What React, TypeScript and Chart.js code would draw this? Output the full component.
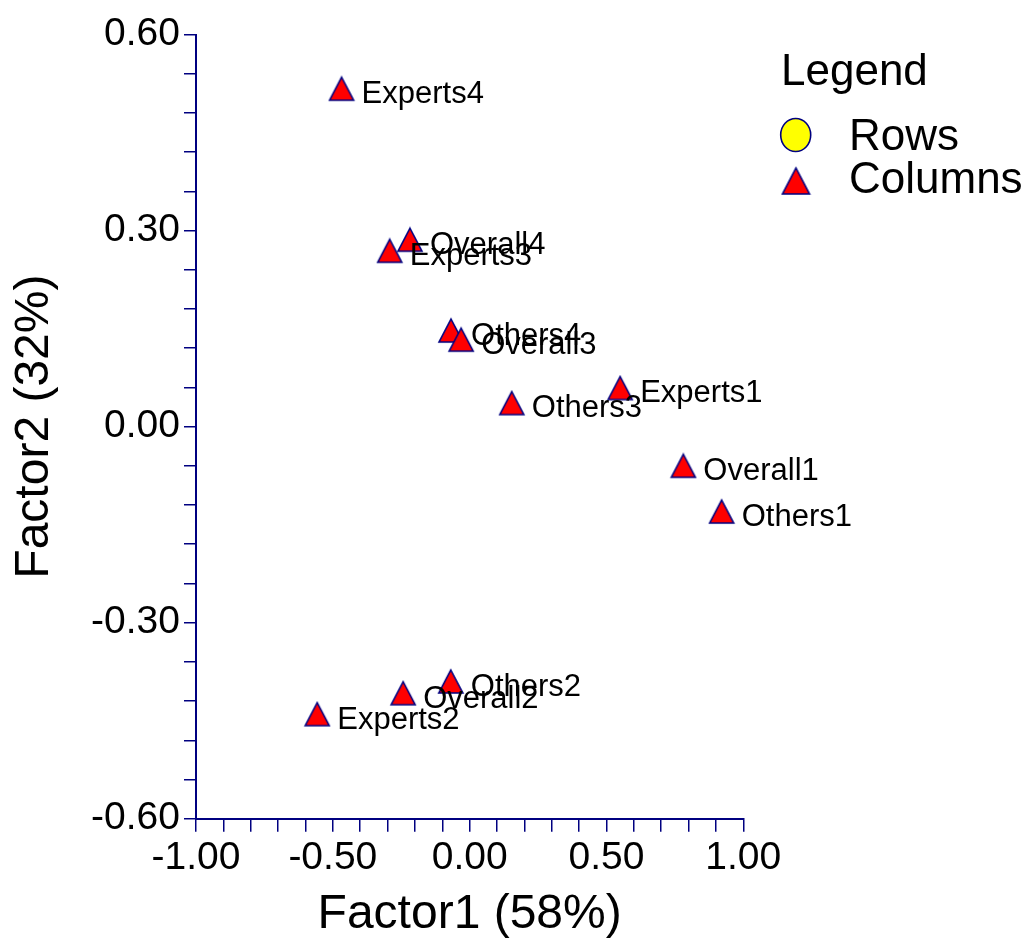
import React, { useEffect, useRef } from "react";
import { Chart, registerables } from "chart.js";

Chart.register(...registerables);

// ---- Data ----
const columnLabels = [
  "Experts1", "Experts2", "Experts3", "Experts4",
  "Others1", "Others2", "Others3", "Others4",
  "Overall1", "Overall2", "Overall3", "Overall4",
];
const columnFactor1 = [0.550, -0.557, -0.292, -0.468, 0.921, -0.069, 0.154, -0.068, 0.781, -0.243, -0.031, -0.218];
const columnFactor2 = [0.059, -0.440, 0.269, 0.517, -0.130, -0.390, 0.036, 0.147, -0.060, -0.408, 0.133, 0.286];

const rowFactor1: number[] = [];
const rowFactor2: number[] = [];

const seriesNames = ["Rows", "Columns"];
const legendTitle = "Legend";
const xTitle = "Factor1 (58%)";
const yTitle = "Factor2 (32%)";
const xRange = [-1, 1];
const yRange = [-0.6, 0.6];
const xStep = 0.1;
const yStep = 0.06;
const xMajorEvery = 0.5;
const yMajorEvery = 0.3;

const NAVY = "#000080";
const FONT = "'Liberation Sans', Arial, Helvetica, sans-serif";
const W = 1027;
const H = 944;

function makeTriangle(w: number, h: number): HTMLCanvasElement {
  const pad = 2;
  const c = document.createElement("canvas");
  c.width = w + pad * 2;
  c.height = h + pad * 2;
  const ctx = c.getContext("2d")!;
  ctx.beginPath();
  ctx.moveTo(c.width / 2, pad);
  ctx.lineTo(pad + w, pad + h);
  ctx.lineTo(pad, pad + h);
  ctx.closePath();
  ctx.fillStyle = "#ff0000";
  ctx.fill();
  ctx.lineWidth = 1.6;
  ctx.strokeStyle = NAVY;
  ctx.lineJoin = "miter";
  ctx.stroke();
  return c;
}

function isMajor(v: number, every: number) {
  const n = Math.round(v * 1000);
  const e = Math.round(every * 1000);
  return n % e === 0;
}

export default function App() {
  const ref = useRef<HTMLCanvasElement | null>(null);

  useEffect(() => {
    const canvas = ref.current;
    if (!canvas) return;
    const tri = makeTriangle(24, 23);
    const legendTri = makeTriangle(27, 26);

    const labelPlugin = {
      id: "pointLabels",
      afterDatasetsDraw(chart: any) {
        const ctx = chart.ctx;
        const meta = chart.getDatasetMeta(1);
        ctx.save();
        ctx.font = `31px ${FONT}`;
        ctx.fillStyle = "#000";
        ctx.textAlign = "left";
        ctx.textBaseline = "alphabetic";
        meta.data.forEach((pt: any, i: number) => {
          ctx.fillText(columnLabels[i], pt.x + 20, pt.y + 14.4);
        });
        ctx.restore();
      },
    };

    const legendPlugin = {
      id: "customLegend",
      afterDraw(chart: any) {
        const ctx = chart.ctx;
        ctx.save();
        ctx.fillStyle = "#000";
        ctx.textAlign = "left";
        ctx.textBaseline = "alphabetic";
        ctx.font = `44px ${FONT}`;
        ctx.fillText(legendTitle, 781, 85);
        // Rows marker
        ctx.beginPath();
        ctx.ellipse(795.7, 135, 15, 16.5, 0, 0, Math.PI * 2);
        ctx.fillStyle = "#ffff00";
        ctx.fill();
        ctx.lineWidth = 1.6;
        ctx.strokeStyle = NAVY;
        ctx.stroke();
        // Columns marker
        ctx.drawImage(legendTri, 796 - legendTri.width / 2, 181 - legendTri.height / 2);
        ctx.fillStyle = "#000";
        ctx.fillText(seriesNames[0], 849, 150);
        ctx.fillText(seriesNames[1], 849, 193.3);
        ctx.restore();
      },
    };

    const chart = new Chart(canvas, {
      type: "scatter",
      data: {
        datasets: [
          {
            label: seriesNames[0],
            data: rowFactor1.map((x, i) => ({ x, y: rowFactor2[i] })),
            pointStyle: "circle",
            pointRadius: 15,
            backgroundColor: "#ffff00",
            borderColor: NAVY,
          },
          {
            label: seriesNames[1],
            data: columnFactor1.map((x, i) => ({ x, y: columnFactor2[i] })),
            pointStyle: tri as any,
            pointRadius: 12,
            backgroundColor: "#ff0000",
            borderColor: NAVY,
          },
        ],
      },
      options: {
        responsive: false,
        animation: false,
        devicePixelRatio: 1,
        events: [],
        layout: { padding: { left: 0, top: 34.5, right: W - 743.3, bottom: 0 } },
        plugins: {
          legend: { display: false },
          tooltip: { enabled: false },
        },
        scales: {
          x: {
            type: "linear",
            position: "bottom",
            min: xRange[0],
            max: xRange[1],
            afterFit: (s: any) => {
              s.height = H - 818.7;
            },
            ticks: {
              stepSize: xStep,
              autoSkip: false,
              maxRotation: 0,
              minRotation: 0,
              padding: 3,
              color: "#000",
              font: { family: FONT, size: 39 },
              callback: (v: any) => (isMajor(Number(v), xMajorEvery) ? Number(v).toFixed(2) : ""),
            },
            grid: {
              display: true,
              drawOnChartArea: false,
              drawTicks: true,
              tickLength: 13,
              color: NAVY,
              lineWidth: 1.5,
            },
            border: { display: true, color: NAVY, width: 2 },
            title: {
              display: true,
              text: xTitle,
              color: "#000",
              font: { family: FONT, size: 48 },
              padding: { top: 0, bottom: 0 },
            },
          },
          y: {
            type: "linear",
            position: "left",
            min: yRange[0],
            max: yRange[1],
            afterFit: (s: any) => {
              s.width = 196;
            },
            ticks: {
              stepSize: yStep,
              autoSkip: false,
              padding: 4,
              color: "#000",
              font: { family: FONT, size: 39 },
              callback: (v: any) => (isMajor(Number(v), yMajorEvery) ? Number(v).toFixed(2) : ""),
            },
            grid: {
              display: true,
              drawOnChartArea: false,
              drawTicks: true,
              tickLength: 12,
              color: NAVY,
              lineWidth: 1.5,
            },
            border: { display: true, color: NAVY, width: 2 },
            title: {
              display: true,
              text: yTitle,
              color: "#000",
              font: { family: FONT, size: 48 },
              padding: { top: 6, bottom: 0 },
            },
          },
        },
      },
      plugins: [labelPlugin, legendPlugin],
    } as any);

    return () => chart.destroy();
  }, []);

  return (
    <div style={{ position: "absolute", left: 0, top: 0, width: W, height: H, background: "#fff" }}>
      <canvas ref={ref} width={W} height={H} style={{ display: "block", width: W, height: H }} />
    </div>
  );
}
